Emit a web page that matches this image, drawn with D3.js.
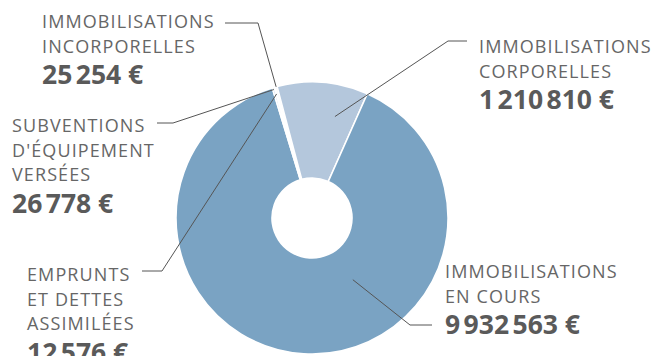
<!DOCTYPE html>
<html><head><meta charset="utf-8">
<script src="https://cdn.jsdelivr.net/npm/d3@7"></script>
<style>html,body{margin:0;padding:0;background:#fff;} svg{display:block}</style>
</head><body>
<script>
// ---- data ----
const categories = ["Immobilisations incorporelles", "Immobilisations corporelles", "Immobilisations en cours", "Subventions d'équipement versées", "Emprunts et dettes assimilées"];
const labelLines = [
  ["IMMOBILISATIONS", "INCORPORELLES"],
  ["IMMOBILISATIONS", "CORPORELLES"],
  ["IMMOBILISATIONS", "EN COURS"],
  ["SUBVENTIONS", "D'ÉQUIPEMENT", "VERSÉES"],
  ["EMPRUNTS", "ET DETTES", "ASSIMILÉES"]
];
const values = [25254, 1210810, 9932563, 26778, 12576];
const colors = ["#c5d5e6", "#b4c7dc", "#7aa3c3", "#c5d5e6", "#c5d5e6"];

// ---- layout ----
const W = 659, H = 356, cx = 312, cy = 218, R = 136, r0 = 40;
const startDeg = -15.7;
const layout = [
  {x: 42,  y: 28,  tail: [225, 23],  elbow: [258, 23],  frac: 0.5,   rr: 136},
  {x: 479, y: 53,  tail: [467, 41],  elbow: [448, 41],  frac: 0.71,  rr: 104},
  {x: 445, y: 278, tail: [432, 325], elbow: [410, 325], frac: 0.384, rr: 74},
  {x: 12,  y: 132, tail: [157, 123], elbow: [173, 123], frac: 0.5,   rr: 134},
  {x: 27,  y: 281, tail: [142, 271], elbow: [162, 271], frac: 0.5,   rr: 129}
];
const lineGap = 24.5, valueGap = 31.5;

const loc = d3.formatLocale({decimal: ",", thousands: "\u202F", grouping: [3], currency: ["", " €"]});
const fmt = loc.format("$,d");

const svg = d3.select("body").append("svg").attr("width", W).attr("height", H);

const a0 = startDeg * Math.PI / 180;
const pie = d3.pie().sort(null).startAngle(a0).endAngle(a0 + 2 * Math.PI);
const arcs = pie(values);
const arc = d3.arc().innerRadius(r0).outerRadius(R);

const g = svg.append("g").attr("transform", `translate(${cx},${cy})`);
g.selectAll("path").data(arcs).join("path")
  .attr("d", arc)
  .attr("fill", (d, i) => colors[i])
  .attr("stroke", "#fff")
  .attr("stroke-width", 1.6)
  .attr("stroke-linejoin", "round");

// leader lines
arcs.forEach((d, i) => {
  const L = layout[i];
  const ang = d.startAngle + (d.endAngle - d.startAngle) * L.frac;
  const px = cx + L.rr * Math.sin(ang), py = cy - L.rr * Math.cos(ang);
  svg.append("polyline")
    .attr("points", [L.tail, L.elbow, [px, py]].map(p => p.join(",")).join(" "))
    .attr("fill", "none")
    .attr("stroke", "#555")
    .attr("stroke-width", 1);
});

// labels
labelLines.forEach((lines, i) => {
  const L = layout[i];
  const t = svg.append("g");
  lines.forEach((s, k) => {
    t.append("text")
      .attr("x", L.x).attr("y", L.y + k * lineGap)
      .attr("font-family", "'Open Sans', sans-serif")
      .attr("font-size", 18)
      .attr("letter-spacing", 1.1)
      .attr("fill", "#666")
      .text(s);
  });
  t.append("text")
    .attr("x", L.x).attr("y", L.y + (lines.length - 1) * lineGap + valueGap)
    .attr("font-family", "'Open Sans', sans-serif")
    .attr("font-size", 26.5)
    .attr("font-weight", 700)
    .attr("letter-spacing", 1.1)
    .attr("fill", "#5a5a5a")
    .text(fmt(values[i]));
});
</script>
</body></html>
